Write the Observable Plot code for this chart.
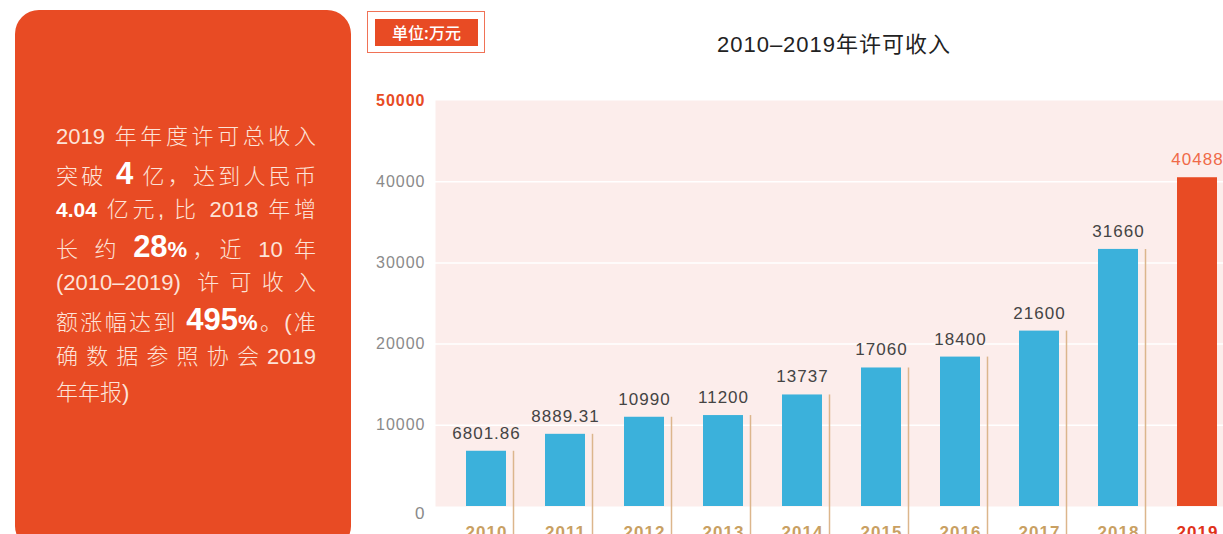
<!DOCTYPE html>
<html>
<head>
<meta charset="utf-8">
<script src="https://cdn.jsdelivr.net/npm/d3@7"></script>
<script src="https://cdn.jsdelivr.net/npm/@observablehq/plot@0.6"></script>
<style>
  html, body { margin:0; padding:0; background:#fff; width:1223px; height:534px; overflow:hidden; }
  body { position:relative; font-family: "Liberation Sans", Arial, "Noto Sans CJK SC", sans-serif; }
  #panel { position:absolute; left:15px; top:10px; width:336px; height:540px; background:#e84b24; border-radius:24px; }
  #panel .ln { position:absolute; left:41px; width:260px; color:#fde3d8; font-size:22px; font-weight:300;
    font-family:"Liberation Sans", "Noto Sans CJK SC", sans-serif; line-height:30px; white-space:nowrap;
    text-align:justify; text-align-last:justify; }
  #panel .ln.last { text-align-last:left; }
  #panel b { color:#fff; font-weight:700; }
  #panel b.big { font-size:31px; }
  #panel b.mid { font-size:21px; }
  #unit { position:absolute; left:367px; top:11px; width:118px; height:42px; border:1px solid #f07256; box-sizing:border-box; }
  #unit div { position:absolute; left:7px; top:7px; width:103px; height:27px; background:#e84b24; color:#fff;
    font-family:"Noto Sans CJK SC", sans-serif; font-size:16px; font-weight:500; text-align:center; line-height:27px; }
  #title { position:absolute; left:584px; width:500px; top:26px; text-align:center; font-size:22px; color:#222;
    letter-spacing:1px; font-family:"Liberation Sans", "Noto Sans CJK SC", sans-serif; }
  #chart { position:absolute; left:360px; top:0; width:863px; height:534px; overflow:hidden; }
  #chart svg { overflow:hidden; }
  #chart text { letter-spacing:1px; }
</style>
</head>
<body>
<div id="panel"></div>
<div id="unit"><div>单位:万元</div></div>
<div id="title">2010–2019年许可收入</div>
<div id="chart"></div>
<script>
const years = ["2010","2011","2012","2013","2014","2015","2016","2017","2018","2019"];
const values = [6801.86, 8889.31, 10990, 11200, 13737, 17060, 18400, 21600, 31660, 40488];
const valueLabels = ["6801.86","8889.31","10990","11200","13737","17060","18400","21600","31660","40488"];
const yTicks = [10000, 20000, 30000, 40000];
const yZero = [0];
const yTop = [50000];
const gridLines = [10000, 20000, 30000, 40000];
const highlightYear = "2019";

const panelLines = [
  '2019 年年度许可总收入',
  '突破 <b class="big">4</b> 亿，达到人民币',
  '<b class="mid">4.04</b> 亿元, 比 2018 年增',
  '长 约 <b class="big">28</b><b>%</b>，近 10 年',
  '(2010–2019) 许可收入',
  '额涨幅达到 <b class="big">495</b><b>%</b>。(准',
  '确 数 据 参 照 协 会 2019',
  '年年报)'
];
const panel = document.getElementById("panel");
panelLines.forEach((t, i) => {
  const d = document.createElement("div");
  d.className = "ln" + (i === panelLines.length - 1 ? " last" : "");
  d.style.top = (112 + i * 36.6) + "px";
  d.innerHTML = t;
  panel.appendChild(d);
});

const data = years.map((y, i) => ({year: y, value: values[i], label: valueLabels[i]}));
const blue = "#3bb1db", red = "#e84b24", gold = "#c9a062";

const chart = Plot.plot({
  width: 863,
  height: 534,
  marginLeft: 75,
  marginRight: 0,
  marginTop: 100,
  marginBottom: 28,
  style: {fontFamily: "Liberation Sans, Arial, sans-serif", background: "transparent"},
  x: {type: "band", domain: years, range: [87, 877], paddingInner: 0.49, paddingOuter: 0.245, axis: null},
  y: {domain: [0, 50000], axis: null},
  marks: [
    Plot.frame({fill: "#fcedeb", stroke: null}),
    Plot.ruleY(gridLines, {stroke: "#ffffff", strokeWidth: 1.5}),
    Plot.ruleX(data, {x: "year", y1: "value", y2: 0, dx: 27, stroke: "#dcb68c", strokeWidth: 1.5, insetBottom: -30, clip: false}),
    Plot.barY(data, {x: "year", y: "value", fill: d => d.year === highlightYear ? red : blue}),
    Plot.text(data, {x: "year", y: "value", text: "label", dy: -18, fontSize: 17,
      fill: d => d.year === highlightYear ? "#f06a48" : "#444"}),
    Plot.text(data, {x: "year", text: "year", frameAnchor: "bottom", dy: 31, fontSize: 17, fontWeight: "bold",
      fill: d => d.year === highlightYear ? "#e0321a" : gold}),
    Plot.text(yTicks, {y: d => d, text: d => String(d), frameAnchor: "left", textAnchor: "end", dx: -10,
      fontSize: 16, fill: "#8a8a8a"}),
    Plot.text(yZero, {y: d => d, text: d => String(d), frameAnchor: "left", textAnchor: "end", dx: -10,
      dy: 7, fontSize: 17, fill: "#8a8a8a"}),
    Plot.text(yTop, {y: d => d, text: d => String(d), frameAnchor: "left", textAnchor: "end", dx: -10,
      fontSize: 16, fontWeight: "bold", fill: red})
  ]
});
document.getElementById("chart").appendChild(chart);
</script>
</body>
</html>
